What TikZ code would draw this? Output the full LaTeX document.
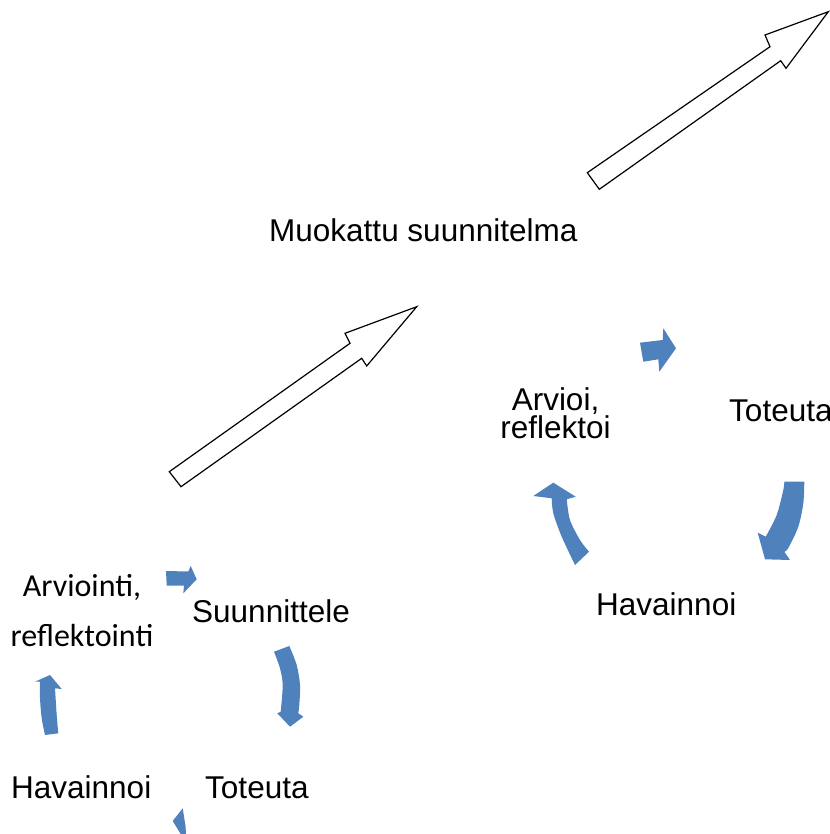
\documentclass[tikz,border=0pt]{standalone}
\usepackage{fontspec}
\setmainfont{Liberation Sans}
\newfontfamily\calibri{Carlito}
\definecolor{arrowblue}{HTML}{4F81BD}
\begin{document}
\begin{tikzpicture}[x=1pt,y=-1pt,
  lbl/.style={anchor=base west, inner sep=0pt, font=\fontsize{31.5}{31.5}\selectfont},
  blk/.style={fill=arrowblue},
  big/.style={draw, line width=1.2pt, fill=white, line join=miter}]
\useasboundingbox (0,0) rectangle (829,834);
% big arrows
\draw[big] (169.3,471.7) -- (350,343.3) -- (345,333.3) -- (416.7,306.7) -- (366.7,366) -- (361.7,358.3) -- (181,486.7) -- cycle;
\draw[big] (587.3,172.7) -- (770,46.7) -- (765,35) -- (828.3,11.7) -- (786,68.3) -- (780.7,60.7) -- (599.3,189.3) -- cycle;
\node[lbl] (muok) at (269,241) {Muokattu suunnitelma};
% first cycle
\node[lbl] (sunn) at (192,622.7) {Suunnittele};
\node[lbl] (tot1) at (205,798.3) {Toteuta};
\node[lbl] (hav1) at (11,798.3) {Havainnoi};
\node[anchor=base, inner sep=0pt, align=center, font=\calibri\fontsize{32}{50}\selectfont] (arv1) at (82,646.7) {Arviointi,\\reflektointi};
\fill[blk] (166,571) -- (188.3,571.5) -- (190.7,566) -- (196.7,579.3) -- (183.3,593.3) -- (184,585.5) -- (166.7,585.5) -- cycle;
\fill[blk] (274,651.7) -- (289.3,646) -- plot[smooth] coordinates {(289.3,646) (296.7,665) (300,685) (299.3,705) (298.3,713.3)} -- (303.3,716.7) -- (290,726.7) -- (277.3,713.3) -- (280.7,711.7) -- plot[smooth] coordinates {(280.7,711.7) (282.7,685) (280,668.3) (274,651.7)} -- cycle;
\fill[blk] (182.7,808.3) -- (172.7,821) -- (180.7,834) -- (186,834) -- (185.5,826) -- cycle;
\fill[blk] (45,735) -- (58.3,733.3) -- plot[smooth] coordinates {(58.3,733.3) (56.7,715) (55,688.3)} -- (61.7,689) -- (50,675) -- (35,681.7) -- (40,681.7) -- plot[smooth] coordinates {(40,681.7) (40,698.3) (41.7,718.3) (45,735)} -- cycle;
% second cycle
\node[anchor=base, inner sep=0pt, align=center, font=\fontsize{31.5}{28.3}\selectfont] (arv2) at (555.5,438.3) {Arvioi,\\reflektoi};
\node[lbl] (tot2) at (729,421.7) {Toteuta};
\node[lbl] (hav2) at (596,615) {Havainnoi};
\fill[blk] (640,342.7) -- (662.7,340) -- (663.3,328.3) -- (676,348.3) -- (659.3,371.7) -- (658.3,359.3) -- (643.3,361.7) -- cycle;
\fill[blk] (784.3,481.7) -- (804.3,481.7) -- plot[smooth] coordinates {(804.3,481.7) (803.3,503.3) (798.3,526.7) (788.3,548) (784.3,551.7)} -- (790,560) -- (765,559.3) -- (757.7,532.7) -- (765.7,536.7) -- plot[smooth] coordinates {(765.7,536.7) (776.7,515) (783.3,490) (784.3,481.7)} -- cycle;
\fill[blk] (575,565) -- (589,551.7) -- plot[smooth] coordinates {(589,551.7) (580,540) (570,520) (566.7,499.3)} -- (575.7,496.7) -- (553.3,482.7) -- (533.3,496) -- (551.7,498.3) -- plot[smooth] coordinates {(551.7,498.3) (553.3,513.3) (561.7,536.7) (575,565)} -- cycle;
\end{tikzpicture}
\end{document}
